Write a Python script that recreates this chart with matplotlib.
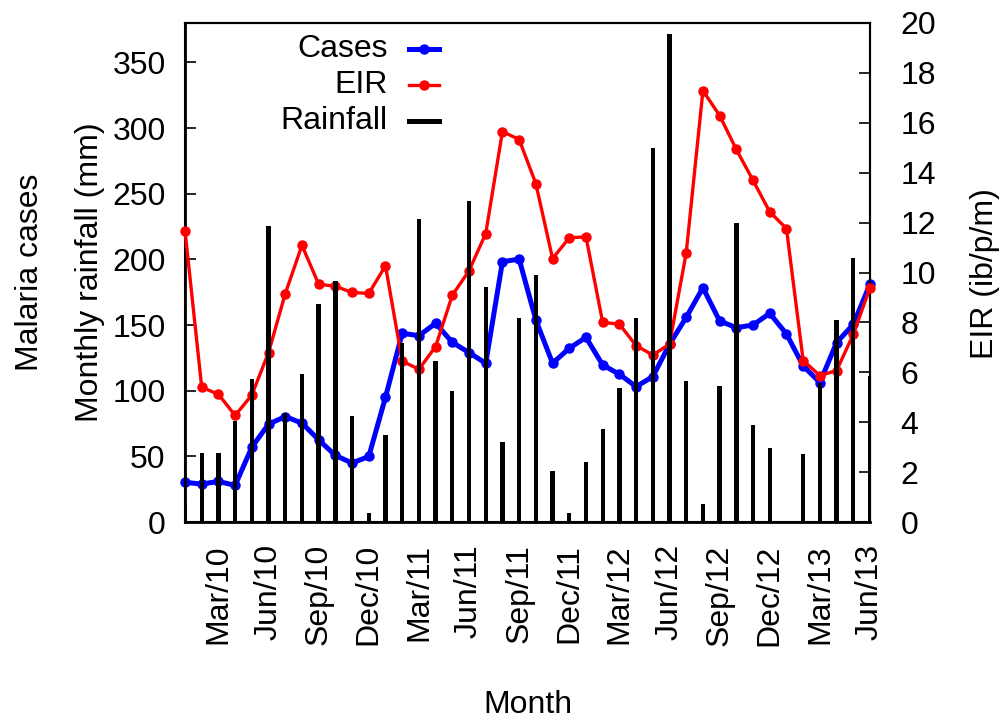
import matplotlib
matplotlib.use("Agg")
import matplotlib.pyplot as plt
import numpy as np

plt.rcParams['font.family'] = ['Liberation Sans', 'DejaVu Sans']

month_names = ["Jan", "Feb", "Mar", "Apr", "May", "Jun",
               "Jul", "Aug", "Sep", "Oct", "Nov", "Dec"]
months = [f"{m}/{y:02d}" for y in (10, 11, 12, 13) for m in month_names][:42]

cases = [30.2, 28.9, 30.9, 27.9, 57.0, 74.5, 80.3, 75.3, 62.6, 50.7, 44.9, 49.9,
         95.0, 143.7, 141.9, 151.3, 136.8, 129.0, 120.9, 198.2, 200.2, 153.8,
         120.9, 132.3, 140.6, 119.6, 112.5, 103.1, 110.7, 135.3, 155.9, 178.4,
         153.1, 148.0, 150.0, 158.9, 143.2, 118.9, 106.2, 136.6, 150.5, 181.2]

eir = [11.67, 5.40, 5.12, 4.27, 5.09, 6.79, 9.15, 11.09, 9.53, 9.45, 9.20, 9.16,
       10.27, 6.45, 6.12, 7.03, 9.09, 10.07, 11.56, 15.65, 15.33, 13.56,
       10.56, 11.39, 11.43, 8.00, 7.93, 7.07, 6.69, 7.13, 10.79, 17.29,
       16.29, 14.93, 13.69, 12.43, 11.76, 6.47, 5.87, 6.07, 7.52, 9.39]

rainfall = [14.4, 52.5, 52.5, 77.0, 108.7, 225.5, 82.9, 112.8, 165.7, 183.7, 80.8, 6.8,
            65.9, 136.0, 230.4, 122.7, 100.1, 244.3, 178.7, 60.6, 155.6, 188.0,
            39.0, 6.8, 45.6, 71.0, 102.4, 155.1, 285.1, 371.8, 107.7, 13.9,
            103.6, 227.8, 73.5, 56.3, 0.0, 52.0, 105.7, 153.8, 201.1, 111.3]

tick_labels = ["Mar/10", "Jun/10", "Sep/10", "Dec/10", "Mar/11", "Jun/11", "Sep/11",
               "Dec/11", "Mar/12", "Jun/12", "Sep/12", "Dec/12", "Mar/13", "Jun/13"]

x = np.arange(len(months))

W, H = 1003, 722
fig = plt.figure(figsize=(W / 100, H / 100), dpi=100)
ax = fig.add_axes([185 / W, 1 - 522 / H, (870 - 185) / W, (522 - 23) / H])
ax2 = ax.twinx()

FS = 23

# Cases on left axis (drawn first, under everything)
ax.plot(x, cases, color='#0000ff', lw=3.6, marker='o', ms=6.5, zorder=2, clip_on=False)
ax.set_ylim(0, 380)
ax.set_xlim(0, 41)

# EIR on right axis
ax2.plot(x, eir, color='#ff0000', lw=2.4, marker='o', ms=6.5, zorder=3, clip_on=False)
ax2.set_ylim(0, 20)

# Rainfall bars on top (own twin to draw above EIR)
ax3 = ax.twinx()
ax3.set_ylim(0, 380)
ax3.bar(x, rainfall, width=0.26, color='black', zorder=4)
ax3.set_xlim(0, 41)
ax3.axis('off')

# Ticks
ax.set_xticks([months.index(t) for t in tick_labels])
ax.set_xticklabels(tick_labels, rotation=90, fontsize=FS)
ax.set_yticks(np.arange(0, 351, 50))
ax.tick_params(axis='y', direction='in', length=8, width=1.2, labelsize=FS, pad=14)
ax.tick_params(axis='x', direction='in', length=0, labelsize=FS, pad=16)
ax2.set_yticks(np.arange(0, 21, 2))
ax2.tick_params(axis='y', direction='in', length=8, width=1.2, labelsize=FS, pad=22)

for a in (ax, ax2):
    for s in a.spines.values():
        s.set_linewidth(1.5)
ax.spines['left'].set_linewidth(2.0)
ax.spines['bottom'].set_linewidth(2.0)

# Axis labels
fig.text(30 / W, 1 - 272 / H, "Malaria cases", rotation=90, ha='center', va='center', fontsize=FS)
fig.text(90 / W, 1 - 272 / H, "Monthly rainfall (mm)", rotation=90, ha='center', va='center', fontsize=FS)
fig.text(985 / W, 1 - 274 / H, "EIR (ib/p/m)", rotation=90, ha='center', va='center', fontsize=FS)
fig.text(528 / W, 1 - 705 / H, "Month", ha='center', va='center', fontsize=FS)

# Legend (text right-aligned, sample to the right)
leg_rows = [("Cases", '#0000ff', 3.6, 'o'), ("EIR", '#ff0000', 2.4, 'o'), ("Rainfall", 'black', 3.6, None)]
leg_y = [49, 85, 121]
for (lab, col, lw, mk), yy in zip(leg_rows, leg_y):
    yf = 1 - yy / H
    fig.text(388 / W, yf, lab, ha='right', va='center', fontsize=FS)
    fig.add_artist(plt.Line2D([409 / W, 439 / W], [yf, yf], color=col, lw=lw,
                              transform=fig.transFigure))
    if mk:
        fig.add_artist(plt.Line2D([424 / W], [yf], color=col, marker=mk, ms=6.5,
                                  transform=fig.transFigure))

fig.savefig("out.png", dpi=100)
